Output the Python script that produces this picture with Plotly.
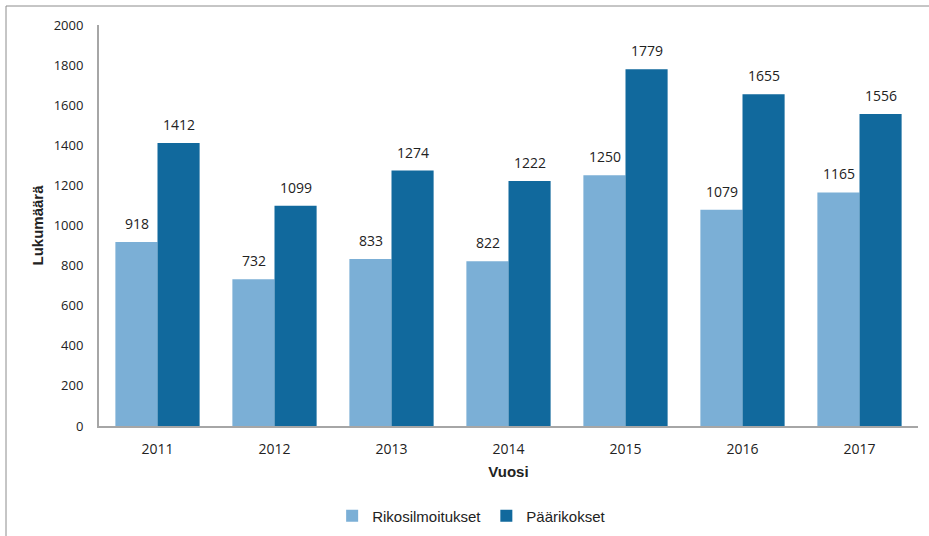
import plotly.graph_objects as go

years = ["2011", "2012", "2013", "2014", "2015", "2016", "2017"]
rikosilmoitukset = [918, 732, 833, 822, 1250, 1079, 1165]
paarikokset = [1412, 1099, 1274, 1222, 1779, 1655, 1556]
y_ticks = [0, 200, 400, 600, 800, 1000, 1200, 1400, 1600, 1800, 2000]

W, H = 929, 536
L, R, T, B = 99, 11, 25, 110
pw, ph = W - L - R, H - T - B

fig = go.Figure()
fig.add_trace(go.Bar(
    x=years, y=rikosilmoitukset, name="Rikosilmoitukset",
    marker=dict(color="#7BAFD6", line=dict(width=0)),
))
fig.add_trace(go.Bar(
    x=years, y=paarikokset, name="Päärikokset",
    marker=dict(color="#11699D", line=dict(width=0)),
))

annotations = []
for series, dx in ((rikosilmoitukset, -21), (paarikokset, 21)):
    for i, v in enumerate(series):
        annotations.append(dict(
            x=i, y=v, xref="x", yref="y", text=str(v), showarrow=False,
            xshift=dx, yshift=7, yanchor="bottom", xanchor="center",
            font=dict(family="Open Sans, sans-serif", size=14, color="#222222"),
        ))

fig.update_layout(
    width=W, height=H,
    margin=dict(l=L, r=R, t=T, b=B, autoexpand=False),
    paper_bgcolor="white", plot_bgcolor="white",
    barmode="group", bargap=0.28, bargroupgap=0,
    font=dict(family="Open Sans, sans-serif", size=13, color="#222222"),
    showlegend=True,
    legend=dict(orientation="h", x=0.455, xanchor="center", y=-0.2245, yanchor="middle",
                font=dict(family="Liberation Sans, Arial, sans-serif", size=15, color="#222222"),
                itemwidth=30, traceorder="normal"),
    xaxis=dict(
        type="category",
        showline=True, linecolor="#A6A6A6", linewidth=2,
        ticks="", showgrid=False, ticklabelstandoff=9,
        tickfont=dict(size=14),
        title=dict(text="<b>Vuosi</b>", font=dict(family="Liberation Sans, Arial, sans-serif", size=15), standoff=10),
    ),
    yaxis=dict(
        range=[0, 2000], tickvals=y_ticks,
        showline=True, linecolor="#A6A6A6", linewidth=2,
        ticks="", showgrid=False, zeroline=False,
        tickfont=dict(size=13), ticklabelstandoff=11,
        title=dict(text="<b>Lukumäärä</b>", font=dict(family="Liberation Sans, Arial, sans-serif", size=15), standoff=6),
    ),
    annotations=annotations,
    shapes=[dict(
        type="rect", xref="paper", yref="paper",
        x0=(6 - L) / pw, x1=(W + 10 - L) / pw,
        y0=-(H + 10 - (H - B)) / ph, y1=(H - B - 6) / ph,
        line=dict(color="#8C8C8C", width=1), fillcolor="rgba(0,0,0,0)", layer="below",
    )],
)

fig.write_html("out.html", config={"displayModeBar": False},
               post_script="document.body.style.margin='0';")
